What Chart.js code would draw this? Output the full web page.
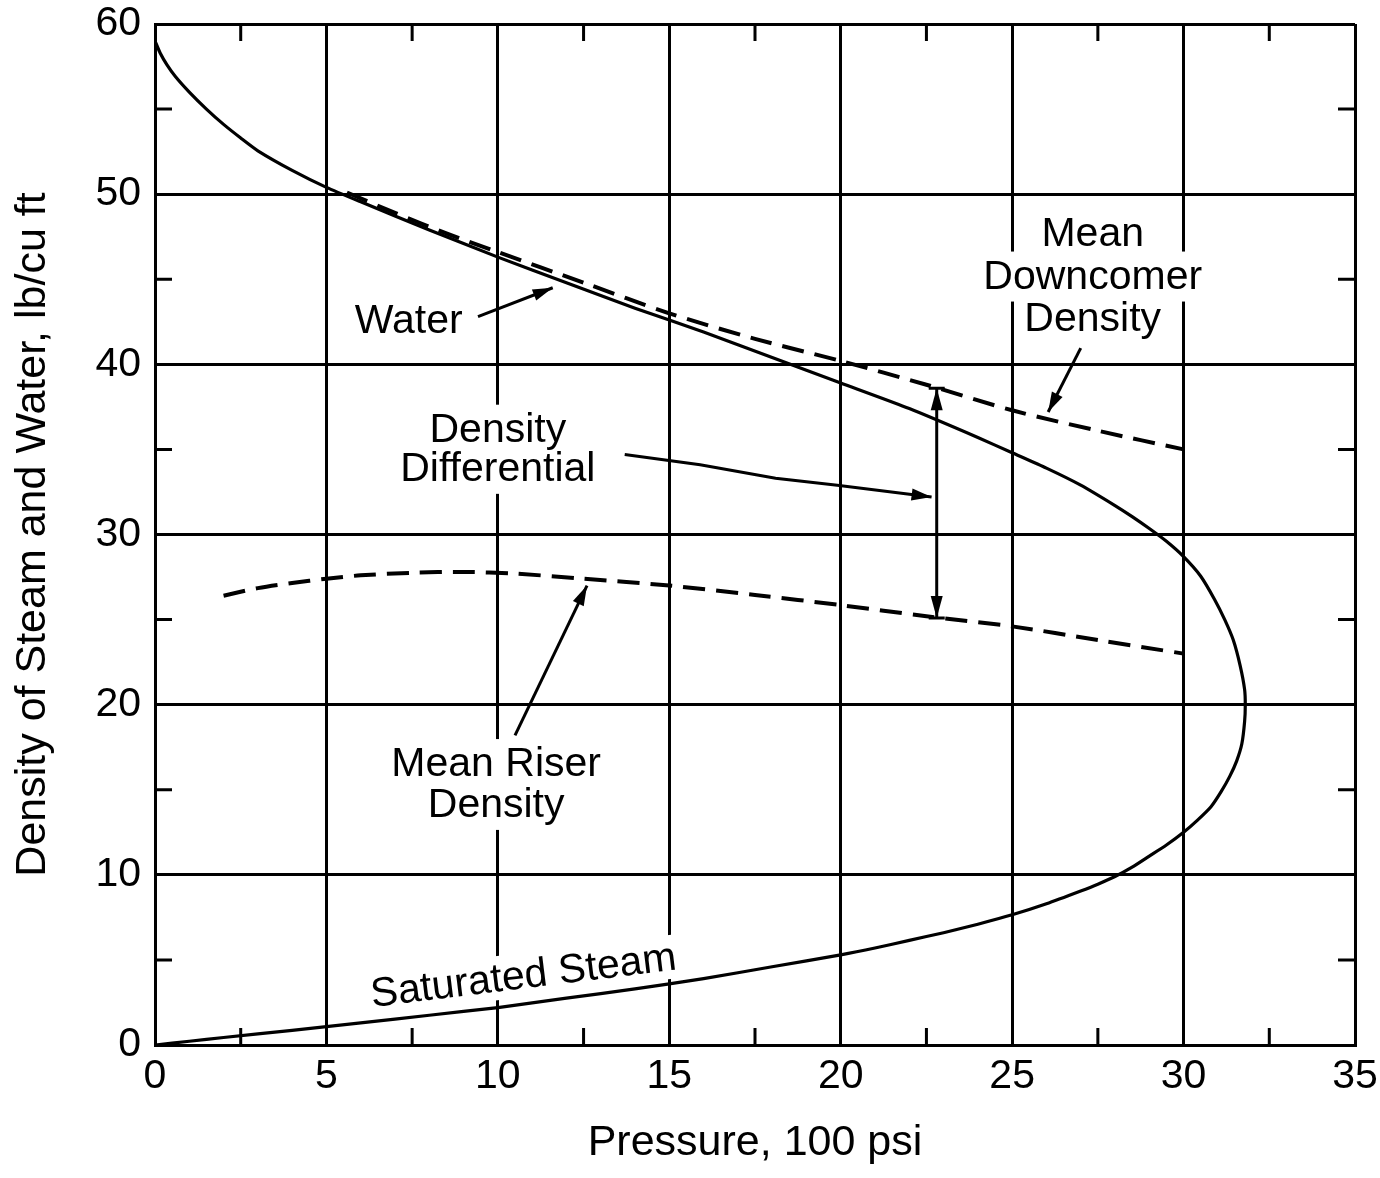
<!DOCTYPE html>
<html>
<head>
<meta charset="utf-8">
<script src="https://cdn.jsdelivr.net/npm/chart.js@4.4.0/dist/chart.umd.min.js"></script>
<style>
html,body{margin:0;padding:0;background:#fff;}
#wrap{width:1380px;height:1178px;position:relative;}
</style>
</head>
<body>
<div id="wrap"><canvas id="c" width="1380" height="1178"></canvas></div>
<script>
// ---------- data ----------
const xTickValues = [0, 5, 10, 15, 20, 25, 30, 35];
const yTickValues = [0, 10, 20, 30, 40, 50, 60];
const xMinorTicks = [2.5, 7.5, 12.5, 17.5, 22.5, 27.5, 32.5];
const yMinorTicks = [5, 15, 25, 35, 45, 55];

// saturation dome: water branch (top) down to critical point, back along saturated steam
const satPressure = [0, 0.15, 0.35, 0.6, 1, 1.5, 2, 2.5, 3, 4, 5, 6, 8, 10, 12, 14, 16, 18, 20, 22, 24, 25, 26, 27, 28, 28.5, 29, 29.5, 30, 30.5, 30.9, 31.2, 31.45, 31.65, 31.78, 31.8,
  31.78, 31.7, 31.55, 31.35, 31.1, 30.8, 30.4, 30, 29.5, 29, 28.5, 28, 27.5, 27, 26, 25, 24, 23, 22, 21, 20, 18, 16, 14, 12, 10, 8, 6, 4, 2, 1, 0];
const satDensity = [59.0, 58.3, 57.6, 56.9, 56.0, 55.0, 54.1, 53.3, 52.55, 51.4, 50.4, 49.55, 47.9, 46.3, 44.8, 43.3, 41.9, 40.4, 38.9, 37.4, 35.7, 34.8, 33.9, 32.9, 31.7, 31.05, 30.35, 29.6, 28.7, 27.55, 26.2, 25.0, 23.8, 22.3, 20.9, 20.0,
  19.0, 17.7, 16.7, 15.8, 14.9, 14.0, 13.2, 12.5, 11.75, 11.1, 10.45, 9.9, 9.45, 9.05, 8.3, 7.65, 7.1, 6.6, 6.15, 5.7, 5.3, 4.6, 3.9, 3.3, 2.75, 2.2, 1.75, 1.3, 0.86, 0.44, 0.22, 0];

const downcomerPressure = [5.6, 7, 8.5, 10, 12.5, 15, 17.5, 20, 22.5, 25, 27.5, 30];
const downcomerDensity  = [50.1, 48.9, 47.7, 46.6, 44.8, 43.0, 41.5, 40.2, 38.8, 37.3, 36.1, 35.0];

const riserPressure = [2, 3, 4, 5, 6, 7.5, 9, 10.5, 12.5, 15, 17.5, 20, 22.5, 25, 27.5, 30];
const riserDensity  = [26.4, 26.85, 27.15, 27.4, 27.6, 27.75, 27.8, 27.7, 27.4, 27.0, 26.45, 25.85, 25.2, 24.6, 23.8, 23.0];

// density differential marker (between the two mean-density curves)
const diffPressure = 22.8;
const diffFrom = 25.1;
const diffTo = 38.6;

// ---------- annotation placement (data units) ----------
const labelText = [
  {lines: ['Water'], x: 7.4, y: [42.5]},
  {lines: ['Mean', 'Downcomer', 'Density'], x: 27.35, y: [47.6, 45.1, 42.6]},
  {lines: ['Density', 'Differential'], x: 10.0, y: [36.1, 33.8]},
  {lines: ['Mean Riser', 'Density'], x: 9.95, y: [16.45, 14.05]}
];
const steamLabel = {text: 'Saturated Steam', x: 10.75, y: 4.0, angle: -7};
const arrowPaths = [
  [[9.42, 42.8], [11.6, 44.5]],
  [[13.7, 34.7], [15.9, 34.1], [18.1, 33.3], [19.9, 32.9], [22.65, 32.2]],
  [[10.5, 18.2], [12.6, 27.0]],
  [[27.0, 40.95], [26.05, 37.2]]
];

const FONT_FAMILY = '"Liberation Sans", Arial, Helvetica, sans-serif';
const FONT_SIZE = 41;
const FONT = FONT_SIZE + 'px ' + FONT_FAMILY;

function toPts(xs, ys) { return xs.map((v, i) => ({x: v, y: ys[i]})); }

function arrowHead(ctx, x0, y0, x1, y1, len, half) {
  const a = Math.atan2(y1 - y0, x1 - x0);
  ctx.beginPath();
  ctx.moveTo(x1, y1);
  ctx.lineTo(x1 - len * Math.cos(a) + half * Math.sin(a), y1 - len * Math.sin(a) - half * Math.cos(a));
  ctx.lineTo(x1 - len * Math.cos(a) - half * Math.sin(a), y1 - len * Math.sin(a) + half * Math.cos(a));
  ctx.closePath();
  ctx.fill();
}

const annot = {
  id: 'annot',
  beforeDatasetsDraw(chart) {
    const {ctx, scales: {x, y}} = chart;
    ctx.save();
    ctx.font = FONT;
    ctx.fillStyle = '#fff';
    labelText.forEach(l => {
      l.lines.forEach((t, i) => {
        const w = ctx.measureText(t).width;
        const cx = x.getPixelForValue(l.x), cy = y.getPixelForValue(l.y[i]);
        ctx.fillRect(cx - w / 2 - 6, cy - 26, w + 12, 50);
      });
    });
    // rotated steam label mask
    const sx = x.getPixelForValue(steamLabel.x), sy = y.getPixelForValue(steamLabel.y);
    const sw = ctx.measureText(steamLabel.text).width;
    ctx.translate(sx, sy);
    ctx.rotate(steamLabel.angle * Math.PI / 180);
    ctx.fillRect(-sw / 2 - 6, -24, sw + 12, 44);
    ctx.restore();
  },
  afterDatasetsDraw(chart) {
    const {ctx, chartArea: ca, scales: {x, y}} = chart;
    ctx.save();
    ctx.strokeStyle = '#000';
    ctx.fillStyle = '#000';
    ctx.lineWidth = 3;
    ctx.lineCap = 'butt';
    // minor ticks
    const tl = 17;
    xMinorTicks.forEach(v => {
      const px = x.getPixelForValue(v);
      ctx.beginPath();
      ctx.moveTo(px, ca.bottom); ctx.lineTo(px, ca.bottom - tl);
      ctx.moveTo(px, ca.top); ctx.lineTo(px, ca.top + tl);
      ctx.stroke();
    });
    yMinorTicks.forEach(v => {
      const py = y.getPixelForValue(v);
      ctx.beginPath();
      ctx.moveTo(ca.left, py); ctx.lineTo(ca.left + tl, py);
      ctx.moveTo(ca.right, py); ctx.lineTo(ca.right - tl, py);
      ctx.stroke();
    });
    // labels
    ctx.font = FONT;
    ctx.textAlign = 'center';
    ctx.textBaseline = 'middle';
    labelText.forEach(l => {
      l.lines.forEach((t, i) => {
        ctx.fillText(t, x.getPixelForValue(l.x), y.getPixelForValue(l.y[i]));
      });
    });
    ctx.save();
    ctx.translate(x.getPixelForValue(steamLabel.x), y.getPixelForValue(steamLabel.y));
    ctx.rotate(steamLabel.angle * Math.PI / 180);
    ctx.fillText(steamLabel.text, 0, 0);
    ctx.restore();
    // arrows
    ctx.lineWidth = 3;
    arrowPaths.forEach(p => {
      const pts = p.map(q => [x.getPixelForValue(q[0]), y.getPixelForValue(q[1])]);
      ctx.beginPath();
      pts.forEach((q, i) => i ? ctx.lineTo(q[0], q[1]) : ctx.moveTo(q[0], q[1]));
      ctx.stroke();
      const a = pts[pts.length - 2], b = pts[pts.length - 1];
      arrowHead(ctx, a[0], a[1], b[0], b[1], 20, 6);
    });
    // double arrow for density differential
    const dx = x.getPixelForValue(diffPressure);
    const y0 = y.getPixelForValue(diffFrom), y1 = y.getPixelForValue(diffTo);
    ctx.beginPath();
    ctx.moveTo(dx, y0); ctx.lineTo(dx, y1);
    ctx.stroke();
    arrowHead(ctx, dx, y0, dx, y1, 22, 6);
    arrowHead(ctx, dx, y1, dx, y0, 22, 6);
    ctx.beginPath();
    ctx.moveTo(dx - 8, y1); ctx.lineTo(dx + 8, y1);
    ctx.moveTo(dx - 8, y0); ctx.lineTo(dx + 8, y0);
    ctx.stroke();
    ctx.restore();
  }
};

const tickFont = {family: FONT_FAMILY, size: FONT_SIZE};
const titleFont = {family: FONT_FAMILY, size: 43};

new Chart(document.getElementById('c').getContext('2d'), {
  type: 'scatter',
  data: {
    datasets: [
      {data: toPts(satPressure, satDensity), showLine: true, borderColor: '#000', borderWidth: 3.2,
       pointRadius: 0, tension: 0.2, fill: false},
      {data: toPts(downcomerPressure, downcomerDensity), showLine: true, borderColor: '#000', borderWidth: 4,
       borderDash: [22, 11], pointRadius: 0, tension: 0.3, fill: false},
      {data: toPts(riserPressure, riserDensity), showLine: true, borderColor: '#000', borderWidth: 4,
       borderDash: [22, 11], pointRadius: 0, tension: 0.3, fill: false}
    ]
  },
  options: {
    responsive: false,
    animation: false,
    devicePixelRatio: 1,
    layout: {padding: {top: 24, right: 25, left: 0, bottom: 0}},
    plugins: {legend: {display: false}, tooltip: {enabled: false}},
    scales: {
      x: {
        type: 'linear', min: 0, max: 35,
        afterFit(s) { s.height = 133; s.paddingLeft = 0; s.paddingRight = 0; },
        afterBuildTicks(s) { s.ticks = xTickValues.map(v => ({value: v})); },
        ticks: {color: '#000', font: tickFont, padding: 7, maxRotation: 0, autoSkip: false},
        grid: {color: '#000', lineWidth: 3, drawTicks: false},
        border: {color: '#000', width: 3},
        title: {display: true, text: 'Pressure, 100 psi', color: '#000', font: titleFont, padding: {top: 0, bottom: 9}}
      },
      y: {
        type: 'linear', min: 0, max: 60,
        afterFit(s) { s.width = 155; s.paddingTop = 0; s.paddingBottom = 0; },
        afterBuildTicks(s) { s.ticks = yTickValues.map(v => ({value: v})); },
        ticks: {color: '#000', font: tickFont, padding: 14, autoSkip: false},
        grid: {color: '#000', lineWidth: 3, drawTicks: false},
        border: {color: '#000', width: 3},
        title: {display: true, text: 'Density of Steam and Water, lb/cu ft', color: '#000', font: titleFont, padding: {top: 7, bottom: 0}}
      }
    }
  },
  plugins: [annot]
});
</script>
</body>
</html>
